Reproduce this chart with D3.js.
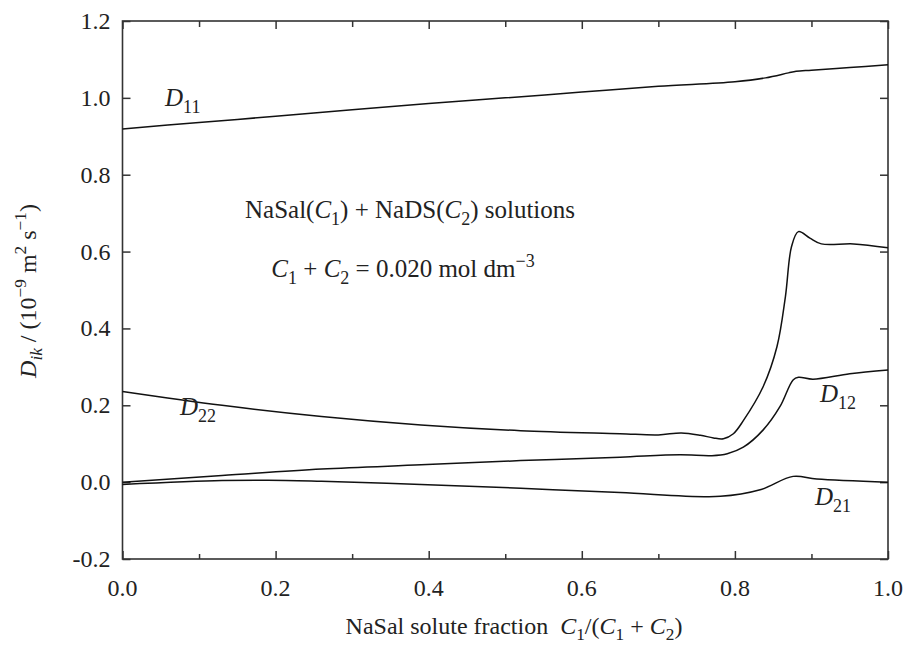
<!DOCTYPE html>
<html>
<head>
<meta charset="utf-8">
<script src="https://cdn.jsdelivr.net/npm/d3@7/dist/d3.min.js"></script>
<style>
  body { margin: 0; background: #fff; }
  svg text { font-family: "Liberation Serif", "Times New Roman", serif !important; fill: #222; }
</style>
</head>
<body>
<div class="grafico"></div>
<script>
const width = 906, height = 650;
const margin = { top: 21, right: 18, bottom: 91, left: 122.5 };

// NaSal solute fraction
const xD11 = [0, 0.1, 0.2, 0.3, 0.4, 0.5, 0.6, 0.7, 0.8, 0.84, 0.87, 0.88, 0.9, 0.95, 1.0];
const D11 = [0.919, 0.936, 0.952, 0.969, 0.985, 1.0, 1.015, 1.03, 1.042, 1.052, 1.065, 1.069, 1.072, 1.079, 1.086];

const xD22 = [0, 0.13, 0.26, 0.39, 0.52, 0.65, 0.7, 0.73, 0.755, 0.772, 0.785, 0.798, 0.811, 0.837, 0.855, 0.866, 0.874, 0.883, 0.898, 0.913, 0.955, 1.0];
const D22 = [0.236, 0.2, 0.171, 0.149, 0.134, 0.126, 0.123, 0.128, 0.122, 0.115, 0.113, 0.126, 0.16, 0.249, 0.353, 0.483, 0.613, 0.652, 0.635, 0.62, 0.62, 0.61];

const xD12 = [0, 0.13, 0.26, 0.39, 0.52, 0.65, 0.728, 0.77, 0.79, 0.811, 0.837, 0.859, 0.876, 0.883, 0.902, 0.95, 1.0];
const D12 = [0.0, 0.017, 0.034, 0.045, 0.056, 0.065, 0.071, 0.069, 0.074, 0.091, 0.136, 0.197, 0.266, 0.273, 0.268, 0.282, 0.292];

const xD21 = [0, 0.13, 0.19, 0.26, 0.39, 0.52, 0.65, 0.781, 0.833, 0.876, 0.907, 1.0];
const D21 = [-0.006, 0.004, 0.005, 0.002, -0.006, -0.016, -0.027, -0.037, -0.02, 0.015, 0.008, 0.0];

const xTicks = [0, 0.2, 0.4, 0.6, 0.8, 1.0];
const xMinor = [0.1, 0.3, 0.5, 0.7, 0.9];
const yTicks = [-0.2, 0, 0.2, 0.4, 0.6, 0.8, 1.0, 1.2];

const FONT = "'Liberation Serif', 'Times New Roman', serif";

const svg = d3.select(".grafico")
    .append("svg")
    .attr("width", width)
    .attr("height", height)
    .attr("font-family", FONT);

const iw = width - margin.left - margin.right;
const ih = height - margin.top - margin.bottom;

const x = d3.scaleLinear().domain([0, 1]).range([margin.left, margin.left + iw]);
const y = d3.scaleLinear().domain([-0.2, 1.2]).range([margin.top + ih, margin.top]);

const axisColor = "#333";

// ticks pointing inward on all four sides
svg.append("g")
    .attr("transform", `translate(0,${y(-0.2)})`)
    .call(d3.axisTop(x).tickValues(xTicks).tickSize(8).tickFormat(""))
    .call(g => g.select(".domain").remove());
svg.append("g")
    .attr("transform", `translate(0,${y(-0.2)})`)
    .call(d3.axisTop(x).tickValues(xMinor).tickSize(5).tickFormat(""))
    .call(g => g.select(".domain").remove());
svg.append("g")
    .attr("transform", `translate(0,${y(1.2)})`)
    .call(d3.axisBottom(x).tickValues(xTicks).tickSize(8).tickFormat(""))
    .call(g => g.select(".domain").remove());
svg.append("g")
    .attr("transform", `translate(0,${y(1.2)})`)
    .call(d3.axisBottom(x).tickValues(xMinor).tickSize(6).tickFormat(""))
    .call(g => g.select(".domain").remove());
svg.append("g")
    .attr("transform", `translate(${x(0)},0)`)
    .call(d3.axisRight(y).tickValues(yTicks).tickSize(8).tickFormat(""))
    .call(g => g.select(".domain").remove());
svg.append("g")
    .attr("transform", `translate(${x(1)},0)`)
    .call(d3.axisLeft(y).tickValues(yTicks).tickSize(8).tickFormat(""))
    .call(g => g.select(".domain").remove());

svg.selectAll(".tick line").attr("stroke", axisColor).attr("stroke-width", 1.5);

// frame
svg.append("rect")
    .attr("x", x(0)).attr("y", y(1.2))
    .attr("width", x(1) - x(0)).attr("height", y(-0.2) - y(1.2))
    .attr("fill", "none").attr("stroke", axisColor).attr("stroke-width", 1.6);

// tick labels
svg.selectAll(".xlab")
    .data(xTicks)
    .enter().append("text")
    .attr("font-family", FONT)
    .attr("x", d => x(d))
    .attr("y", y(-0.2) + 37)
    .attr("text-anchor", "middle")
    .attr("font-size", 24)
    .text(d => d.toFixed(1));

svg.selectAll(".ylab")
    .data(yTicks)
    .enter().append("text")
    .attr("font-family", FONT)
    .attr("x", x(0) - 12)
    .attr("y", d => y(d) + 8)
    .attr("text-anchor", "end")
    .attr("font-size", 24)
    .text(d => d.toFixed(1));

// curves
const series = [
    { xs: xD11, ys: D11 },
    { xs: xD22, ys: D22 },
    { xs: xD12, ys: D12 },
    { xs: xD21, ys: D21 }
];

const line = d3.line()
    .x(d => x(d[0]))
    .y(d => y(d[1]))
    .curve(d3.curveCatmullRom.alpha(0.5));

svg.selectAll(".curve")
    .data(series)
    .enter().append("path")
    .attr("class", "curve")
    .attr("d", s => line(s.xs.map((v, i) => [v, s.ys[i]])))
    .attr("fill", "none")
    .attr("stroke", "#111")
    .attr("stroke-width", 1.5);

// helper for text with italic / sub / sup pieces
function richText(t, parts, size) {
    parts.forEach(p => {
        const ts = t.append("tspan").text(p.t);
        if (p.i) ts.attr("font-style", "italic");
        if (p.sub) ts.attr("font-size", size * 0.72).attr("dy", size * 0.27);
        if (p.sup) ts.attr("font-size", size * 0.72).attr("dy", -size * 0.4);
        if (p.back) ts.attr("dy", p.back);
    });
    return t;
}

function curveLabel(px, py, sub) {
    const t = svg.append("text")
        .attr("font-family", FONT)
        .attr("x", px).attr("y", py)
        .attr("font-size", 25);
    t.append("tspan").attr("font-style", "italic").text("D");
    t.append("tspan").attr("font-size", 18).attr("dy", 7).text(sub);
}

curveLabel(165, 106, "11");
curveLabel(180, 415, "22");
curveLabel(820, 402, "12");
curveLabel(815, 505, "21");

// annotation
const s = 25;
const a1 = svg.append("text").attr("font-family", FONT).attr("x", 410).attr("y", 218).attr("text-anchor", "middle").attr("font-size", s);
richText(a1, [
    { t: "NaSal(" }, { t: "C", i: true }, { t: "1", sub: true }, { t: ") + NaDS(", back: -s * 0.27 },
    { t: "C", i: true }, { t: "2", sub: true }, { t: ") solutions", back: -s * 0.27 }
], s);

const a2 = svg.append("text").attr("font-family", FONT).attr("x", 403).attr("y", 277).attr("text-anchor", "middle").attr("font-size", s);
richText(a2, [
    { t: "C", i: true }, { t: "1", sub: true }, { t: " + ", back: -s * 0.27 },
    { t: "C", i: true }, { t: "2", sub: true }, { t: " = 0.020 mol dm", back: -s * 0.27 },
    { t: "\u22123", sup: true }
], s);

// x title
const xs = 24;
const xt = svg.append("text").attr("font-family", FONT).attr("x", 514).attr("y", 634).attr("text-anchor", "middle").attr("font-size", xs);
richText(xt, [
    { t: "NaSal solute fraction\u00a0\u00a0" }, { t: "C", i: true }, { t: "1", sub: true },
    { t: "/(", back: -xs * 0.27 }, { t: "C", i: true }, { t: "1", sub: true },
    { t: " + ", back: -xs * 0.27 }, { t: "C", i: true }, { t: "2", sub: true },
    { t: ")", back: -xs * 0.27 }
], xs);

// y title
const ys = 24;
const yt = svg.append("text")
    .attr("font-family", FONT)
    .attr("transform", `translate(36,291) rotate(-90)`)
    .attr("text-anchor", "middle")
    .attr("font-size", ys);
richText(yt, [
    { t: "D", i: true }, { t: "ik", i: true, sub: true }, { t: " / (10", back: -ys * 0.27 },
    { t: "\u22129", sup: true }, { t: " m", back: ys * 0.4 }, { t: "2", sup: true },
    { t: " s", back: ys * 0.4 }, { t: "\u22121", sup: true }, { t: ")", back: ys * 0.4 }
], ys);
</script>
</body>
</html>
